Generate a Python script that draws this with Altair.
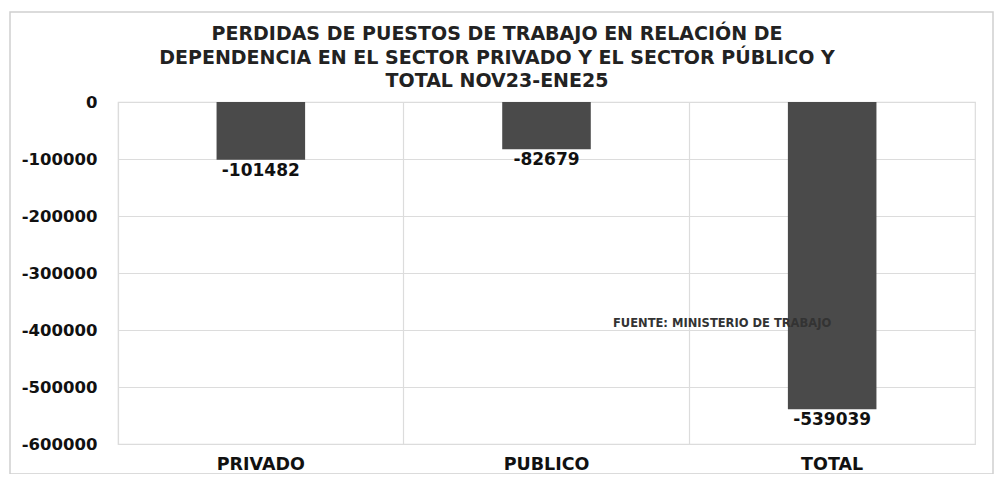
import altair as alt
import pandas as pd

categories = ["PRIVADO", "PUBLICO", "TOTAL"]
values = [-101482, -82679, -539039]
title_lines = [
    "PERDIDAS DE PUESTOS DE TRABAJO EN RELACIÓN DE",
    "DEPENDENCIA EN EL SECTOR PRIVADO Y EL SECTOR PÚBLICO Y",
    "TOTAL NOV23-ENE25",
]
note_text = ["FUENTE: MINISTERIO DE TRABAJO"]
note_value = [-390000]
y_ticks = [0, -100000, -200000, -300000, -400000, -500000, -600000]

df = pd.DataFrame({"cat": categories, "val": values})
note_df = pd.DataFrame({"t": note_text, "v": note_value})
title_df = pd.DataFrame({"t": ["\n".join(title_lines)]})

FONT = "DejaVu Sans"

x = alt.X(
    "cat:N",
    sort=categories,
    title=None,
    scale=alt.Scale(paddingInner=0, paddingOuter=0),
    axis=alt.Axis(
        labelAngle=0, labelFont=FONT, labelFontWeight="bold", labelFontSize=17.5,
        labelColor="#111111", labelPadding=11, ticks=False, domain=False,
        grid=True, bandPosition=0, gridColor="#dcdcdc", gridWidth=1.2,
    ),
)
y = alt.Y(
    "val:Q",
    title=None,
    scale=alt.Scale(domain=[-600000, 0], nice=False),
    axis=alt.Axis(
        values=y_ticks, labelExpr="'' + datum.value", labelFont=FONT,
        labelFontWeight="bold", labelFontSize=16.5, labelColor="#111111",
        labelPadding=21, ticks=False, domain=False,
        gridColor="#dcdcdc", gridWidth=1.2,
    ),
)

bars = alt.Chart(df).mark_bar(color="#4a4a4a", width={"band": 0.31}).encode(
    x=x, y=y, y2=alt.datum(0)
)
labels = alt.Chart(df).transform_calculate(lbl="'' + datum.val").mark_text(
    font=FONT, fontWeight="bold", fontSize=17, color="#111111",
    baseline="top", dy=3,
).encode(x=alt.X("cat:N", sort=categories), y="val:Q", text="lbl:N")

note = alt.Chart(note_df).mark_text(
    font=FONT, fontSize=11.5, fontWeight="bold", color="#333333", align="left",
    baseline="middle",
).encode(x=alt.value(495), y="v:Q", text="t:N")

frame = alt.Chart(note_df).mark_rect(
    fill=None, stroke="#d0d0d0", strokeWidth=1.5, clip=False
).encode(x=alt.value(-108), x2=alt.value(875), y=alt.value(-90), y2=alt.value(372))

title = alt.Chart(title_df).mark_text(
    font=FONT, fontSize=19, fontWeight="bold", color="#222222",
    align="center", baseline="top", lineBreak="\n", lineHeight=23.5, clip=False,
).encode(x=alt.value(379), y=alt.value(-77), text="t:N")

chart = alt.layer(frame, bars, labels, note, title).properties(
    width=857,
    height=342,
    padding={"left": 110, "top": 94, "right": 22, "bottom": 30},
    autosize=alt.AutoSizeParams(type="none"),
    background="white",
).configure_view(stroke="#dcdcdc", strokeWidth=1.2)

chart.save("out.html", embed_options={"renderer": "svg", "actions": False})
